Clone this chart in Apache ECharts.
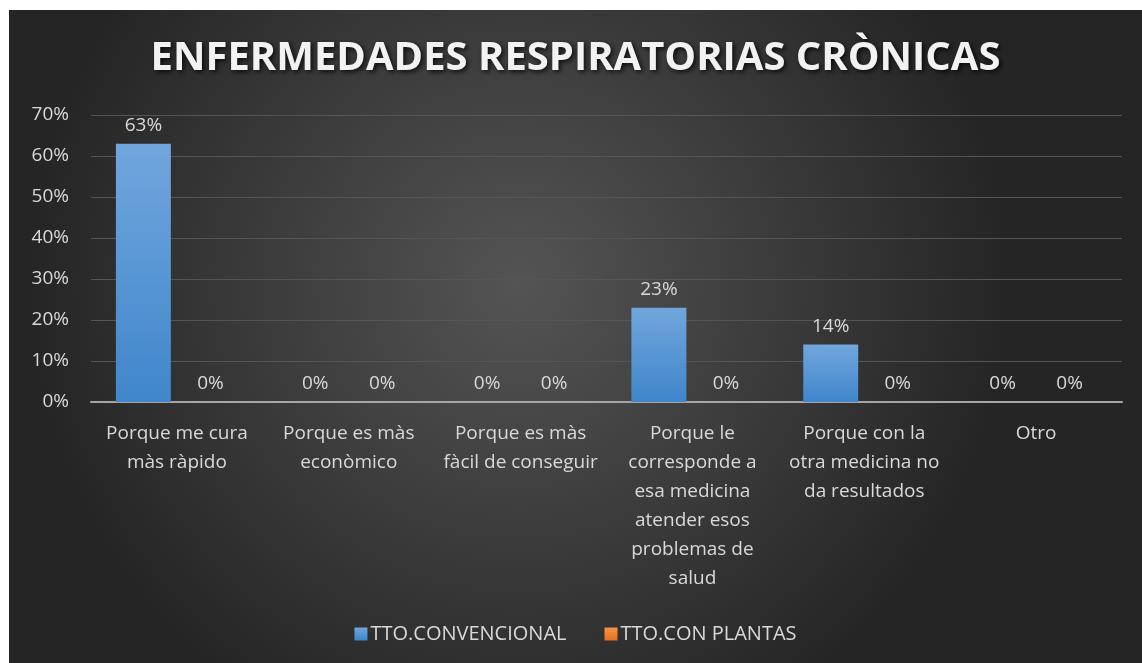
<!DOCTYPE html>
<html>
<head>
<meta charset="utf-8">
<script src="https://cdn.jsdelivr.net/npm/echarts@6/dist/echarts.min.js"></script>
<style>
  html, body { margin: 0; padding: 0; background: #fff; }
  #chart { position: absolute; left: 9px; top: 10px; width: 1133px; height: 653px; }
</style>
</head>
<body>
<div id="chart"></div>
<script>
var titleText = 'ENFERMEDADES RESPIRATORIAS CRÒNICAS';
var categories = [
  'Porque me cura\nmàs ràpido',
  'Porque es màs\neconòmico',
  'Porque es màs\nfàcil de conseguir',
  'Porque le\ncorresponde a\nesa medicina\natender esos\nproblemas de\nsalud',
  'Porque con la\notra medicina no\nda resultados',
  'Otro'
];
var convencional = [63, 0, 0, 23, 14, 0];
var conPlantas = [0, 0, 0, 0, 0, 0];
var seriesNames = ['TTO.CONVENCIONAL', 'TTO.CON PLANTAS'];

var txt = '#d9d9d9';
var font = '"Open Sans", "Noto Sans", sans-serif';

var chart = echarts.init(document.getElementById('chart'));
chart.setOption({
  backgroundColor: {
    type: 'radial', x: 0.45, y: 0.42, r: 0.75,
    colorStops: [
      { offset: 0, color: '#545454' },
      { offset: 1, color: '#252525' }
    ]
  },
  textStyle: { fontFamily: font },
  title: {
    text: titleText,
    left: 'center',
    top: 24,
    textStyle: {
      color: '#f2f2f2', fontSize: 40, fontWeight: 'bold', fontFamily: font,
      textShadowColor: 'rgba(0,0,0,0.8)', textShadowBlur: 5, textShadowOffsetX: 2, textShadowOffsetY: 2
    }
  },
  legend: {
    data: seriesNames,
    bottom: 14,
    left: 'center',
    itemWidth: 13, itemHeight: 13, itemGap: 38,
    icon: 'rect',
    textStyle: { color: txt, fontSize: 20, fontFamily: font, padding: [0, 0, 0, -2] }
  },
  grid: { left: 82, right: 20, top: 105, height: 287 },
  xAxis: {
    type: 'category',
    data: categories,
    axisLine: { lineStyle: { color: '#a6a6a6', width: 2 } },
    axisTick: { show: false },
    axisLabel: { color: txt, fontSize: 19, lineHeight: 29, margin: 17, interval: 0, fontFamily: font }
  },
  yAxis: {
    type: 'value',
    min: 0, max: 70, interval: 10,
    axisLine: { show: false },
    axisTick: { show: false },
    axisLabel: { color: txt, fontSize: 19, margin: 22, formatter: '{value}%', fontFamily: font },
    splitLine: { lineStyle: { color: '#555555', width: 1 } }
  },
  series: [
    {
      name: seriesNames[0],
      type: 'bar',
      data: convencional,
      barGap: '22%',
      barCategoryGap: '29%',
      itemStyle: {
        color: {
          type: 'linear', x: 0, y: 0, x2: 0, y2: 1,
          colorStops: [{ offset: 0, color: '#71a6dd' }, { offset: 1, color: '#3f86cb' }]
        }
      },
      label: { show: true, position: 'top', distance: 9, color: txt, fontSize: 19, formatter: '{c}%', fontFamily: font }
    },
    {
      name: seriesNames[1],
      type: 'bar',
      data: conPlantas,
      itemStyle: {
        color: {
          type: 'linear', x: 0, y: 0, x2: 0, y2: 1,
          colorStops: [{ offset: 0, color: '#f79447' }, { offset: 1, color: '#e56f1f' }]
        }
      },
      label: { show: true, position: 'top', distance: 9, color: txt, fontSize: 19, formatter: '{c}%', fontFamily: font }
    }
  ]
});
</script>
</body>
</html>
